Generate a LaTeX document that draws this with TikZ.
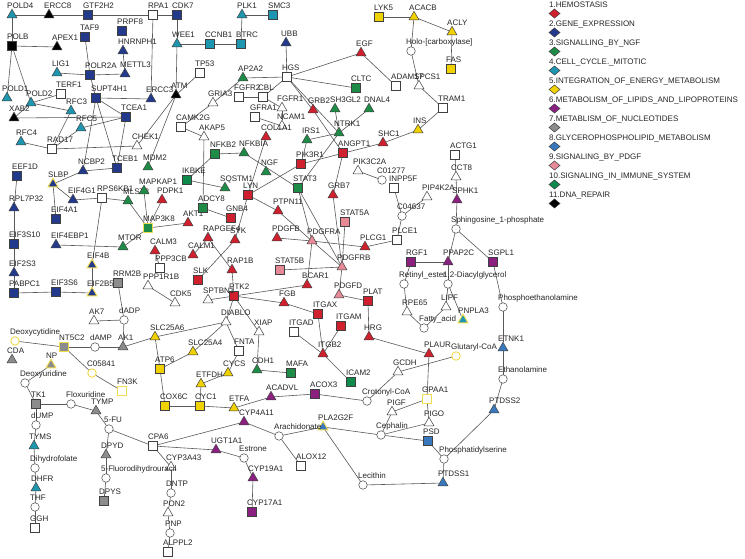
\documentclass[tikz,border=0pt]{standalone}
\usepackage{fontspec}
\setmainfont{Liberation Sans}
\usetikzlibrary{shapes.geometric}
\definecolor{c1}{HTML}{D0202E}
\definecolor{c2}{HTML}{233A8C}
\definecolor{c3}{HTML}{1E8C46}
\definecolor{c4}{HTML}{1E96B0}
\definecolor{c5}{HTML}{F0D200}
\definecolor{c6}{HTML}{8A2180}
\definecolor{c7}{HTML}{8C8C8C}
\definecolor{c8}{HTML}{3A78BE}
\definecolor{c9}{HTML}{E68A98}
\definecolor{c10}{HTML}{0E8A4C}
\definecolor{c11}{HTML}{000000}
\definecolor{ybd}{HTML}{F0DC50}
\pgfdeclarelayer{bg}
\pgfsetlayers{bg,main}
\tikzset{
 base/.style={draw=black!75, line width=0.5pt, inner sep=0pt, outer sep=0pt},
 sq/.style={base, rectangle, minimum size=9pt},
 tri/.style={base, regular polygon, regular polygon sides=3, minimum size=11.5pt},
 cir/.style={base, circle, minimum size=8.5pt},
 yb/.style={draw=ybd, line width=0.9pt},
 lbl/.style={font=\fontsize{8}{9}\selectfont, anchor=base west, inner sep=0pt, text=black!85},
 ed/.style={draw=black!65, line width=0.6pt},
 legd/.style={base, diamond, minimum width=11pt, minimum height=9pt},
}
\newcommand\ND[6]{\node[#2,fill=#3] (#1) at (#4,#5) {}; \node[lbl] at (#4-5,#5-6.5) {#6};}
\begin{document}
\begin{tikzpicture}[x=1pt,y=-1pt]
\useasboundingbox (0,0) rectangle (745,559);
% --- top left: DNA repair / gene expression
\ND{POLD4}{tri}{c4}{12}{15}{POLD4}
\ND{ERCC8}{tri}{c11}{49}{15}{ERCC8}
\ND{GTF2H2}{sq}{c2}{88}{15}{GTF2H2}
\ND{RPA1}{sq}{white}{153}{15}{RPA1}
\ND{CDK7}{sq}{c2}{177}{15}{CDK7}
\ND{TAF9}{sq}{c2}{85}{37}{TAF9}
\ND{PRPF8}{sq}{c2}{122}{31}{PRPF8}
\ND{POLB}{sq}{c11}{12}{46}{POLB}
\ND{APEX1}{tri}{c11}{57}{47}{APEX1}
\ND{HNRNPH1}{tri}{c2}{123}{51}{HNRNPH1}
\ND{WEE1}{tri}{c4}{177}{44}{WEE1}
\ND{LIG1}{tri}{c4}{57}{73}{LIG1}
\ND{POLR2A}{sq}{c2}{90}{75}{POLR2A}
\ND{METTL3}{tri}{c2}{125}{74}{METTL3}
\ND{POLD1}{tri}{c4}{7}{98}{POLD1}
\ND{TERF1}{sq}{white}{61}{94}{TERF1}
\ND{POLD2}{tri}{c4}{31}{103}{POLD2}
\ND{SUPT4H1}{sq}{c2}{96}{98}{SUPT4H1}
\ND{ERCC3}{tri}{c2}{151}{99}{ERCC3}
\ND{ATM}{tri}{c11}{176}{95}{ATM}
\ND{RFC3}{tri}{c4}{71}{111}{RFC3}
\ND{XAB2}{tri}{c11}{14}{118}{XAB2}
\ND{TCEA1}{sq}{c2}{126}{117}{TCEA1}
\ND{RFC5}{tri}{c4}{81}{128}{RFC5}
\ND{CAMK2G}{sq}{white}{181}{127}{CAMK2G}
\ND{RFC4}{tri}{c4}{21}{142}{RFC4}
\ND{RAD17}{sq}{white}{52}{149}{RAD17}
\ND{CHEK1}{tri}{white}{137}{146}{CHEK1}
\ND{EEF1D}{sq}{c2}{17}{176}{EEF1D}
\ND{NCBP2}{tri}{c2}{83}{171}{NCBP2}
\ND{TCEB1}{sq}{c2}{117}{168}{TCEB1}
\ND{MDM2}{tri}{c3}{148}{167}{MDM2}
\ND{IKBKE}{sq}{c10}{187}{180}{IKBKE}
\ND{SLBP}{tri,yb}{c2}{53}{184}{SLBP}
% --- top middle
\ND{PLK1}{tri}{c4}{242}{15}{PLK1}
\ND{SMC3}{sq}{c4}{273}{15}{SMC3}
\ND{CCNB1}{sq}{c4}{210}{44}{CCNB1}
\ND{BTRC}{sq}{c4}{241}{44}{BTRC}
\ND{UBB}{tri}{c2}{286}{43}{UBB}
\ND{EGF}{tri}{c1}{361}{53}{EGF}
\ND{TP53}{sq}{white}{200}{73}{TP53}
\ND{AP2A2}{tri}{c3}{243}{78}{AP2A2}
\ND{HGS}{sq}{white}{287}{77}{HGS}
\ND{CLTC}{sq}{c3}{356}{88}{CLTC}
\ND{FGFR2}{sq}{white}{239}{97}{FGFR2}
\ND{CBL}{sq}{white}{263}{97}{CBL}
\ND{GRIA3}{tri}{white}{213}{103}{GRIA3}
\ND{FGFR1}{tri}{white}{282}{108}{FGFR1}
\ND{GRB2}{tri}{c1}{313}{110}{GRB2}
\ND{SH3GL2}{tri}{c3}{335}{109}{SH3GL2}
\ND{DNAL4}{tri}{c3}{369}{109}{DNAL4}
\ND{GFRA1}{sq}{white}{255}{117}{GFRA1}
\ND{NCAM1}{tri}{white}{282}{126}{NCAM1}
\ND{AKAP5}{tri}{white}{204}{137}{AKAP5}
\ND{COL1A1}{tri}{c1}{266}{137}{COL1A1}
\ND{IRS1}{tri}{c3}{307}{140}{IRS1}
\ND{NTRK1}{tri}{c3}{339}{133}{NTRK1}
\ND{NFKB2}{sq}{c3}{215}{154}{NFKB2}
\ND{NFKBIA}{tri}{c3}{244}{153}{NFKBIA}
\ND{ANGPT1}{sq}{c1}{343}{153}{ANGPT1}
\ND{PIK3R1}{sq}{c1}{301}{164}{PIK3R1}
\ND{PIK3C2A}{tri}{white}{358}{171}{PIK3C2A}
\ND{NGF}{tri}{c3}{266}{172}{NGF}
\ND{SQSTM1}{tri}{c3}{225}{188}{SQSTM1}
\ND{LYN}{sq}{c1}{248}{195}{LYN}
\ND{STAT3}{sq}{c3}{298}{188}{STAT3}
\ND{GRB7}{tri}{c1}{333}{195}{GRB7}
% --- top right
\ND{LYK5}{sq}{c5}{379}{17}{LYK5}
\ND{ACACB}{tri}{c5}{414}{17}{ACACB}
\ND{ACLY}{tri}{c5}{452}{32}{ACLY}
\ND{Holo}{cir}{white}{411}{51}{Holo-[carboxylase]}
\ND{FAS}{sq}{c5}{451}{69}{FAS}
\ND{ADAM17}{sq}{white}{396}{86}{ADAM17}
\ND{SPCS1}{tri}{white}{419}{86}{SPCS1}
\ND{TRAM1}{sq}{white}{443}{108}{TRAM1}
\ND{INS}{tri}{c5}{418}{130}{INS}
\ND{SHC1}{tri}{c1}{383}{143}{SHC1}
\ND{ACTG1}{sq}{white}{455}{155}{ACTG1}
\ND{CCT8}{tri}{white}{456}{177}{CCT8}
\ND{C01277}{cir}{white}{382}{180}{C01277}
\ND{INPP5F}{sq}{white}{394}{188}{INPP5F}
\ND{PIP4K2A}{tri}{white}{427}{197}{PIP4K2A}
\ND{SPHK1}{tri}{c6}{457}{200}{SPHK1}
% --- left middle
\ND{EIF4G1}{tri}{c2}{73}{200}{EIF4G1}
\ND{RPS6KB1}{sq}{white}{102}{198}{RPS6KB1}
\ND{MLST8}{tri}{c3}{128}{201}{MLST8}
\ND{MAPKAP1}{tri}{c3}{144}{191}{MAPKAP1}
\ND{PDPK1}{tri}{c1}{162}{200}{PDPK1}
\ND{RPL7P32}{tri}{c2}{14}{208}{RPL7P32}
\ND{EIF4A1}{sq}{c2}{56}{219}{EIF4A1}
\ND{MAP3K8}{sq,yb}{c3}{148}{228}{MAP3K8}
\ND{AKT1}{tri}{c1}{188}{223}{AKT1}
\ND{EIF3S10}{sq}{c2}{14}{244}{EIF3S10}
\ND{EIF4EBP1}{tri}{c2}{56}{245}{EIF4EBP1}
\ND{MTOR}{tri}{c3}{123}{247}{MTOR}
\ND{CALM3}{tri}{c1}{155}{251}{CALM3}
\ND{EIF4B}{tri,yb}{c2}{92}{265}{EIF4B}
\ND{PPP3CB}{sq}{white}{160}{268}{PPP3CB}
\ND{EIF2S3}{tri}{c2}{14}{273}{EIF2S3}
\ND{RRM2B}{sq}{c7}{118}{283}{RRM2B}
\ND{PPP1R1B}{tri}{white}{148}{286}{PPP1R1B}
\ND{PABPC1}{sq}{c2}{14}{293}{PABPC1}
\ND{EIF3S6}{sq}{c2}{56}{292}{EIF3S6}
\ND{EIF2B5}{tri,yb}{c2}{92}{293}{EIF2B5}
\ND{CDK5}{tri}{white}{175}{303}{CDK5}
\ND{AK7}{tri}{white}{94}{321}{AK7}
\ND{dADP}{cir}{white}{124}{320}{dADP}
\ND{DCYT}{cir,yb}{white}{15}{341}{Deoxycytidine}
\ND{NT5C2}{sq,yb}{c7}{64}{347}{NT5C2}
\ND{dAMP}{cir}{white}{95}{347}{dAMP}
\ND{AK1}{tri}{c7}{123}{347}{AK1}
\ND{SLC25A6}{tri}{c5}{155}{337}{SLC25A6}
\ND{CDA}{tri}{c7}{12}{360}{CDA}
\ND{NP}{tri,yb}{c7}{51}{365}{NP}
\ND{ATP6}{sq}{c5}{160}{369}{ATP6}
\ND{C05841}{cir,yb}{white}{92}{373}{C05841}
% --- center
\ND{ADCY8}{sq}{c3}{203}{208}{ADCY8}
\ND{GNB4}{sq}{c1}{231}{218}{GNB4}
\ND{PTPN11}{tri}{c1}{278}{211}{PTPN11}
\ND{STAT5A}{sq}{c9}{345}{222}{STAT5A}
\ND{RAPGEF4}{tri}{c1}{208}{238}{RAPGEF4}
\ND{SYK}{tri}{c1}{235}{240}{SYK}
\ND{PDGFB}{tri}{c1}{277}{238}{PDGFB}
\ND{PDGFRA}{tri}{c9}{312}{241}{PDGFRA}
\ND{PLCG1}{tri}{c1}{365}{247}{PLCG1}
\ND{CALM1}{tri}{c1}{193}{255}{CALM1}
\ND{PDGFRB}{tri}{c9}{342}{267}{PDGFRB}
\ND{STAT5B}{sq}{c9}{280}{270}{STAT5B}
\ND{RAP1B}{tri}{c1}{232}{270}{RAP1B}
\ND{BCAR1}{tri}{c1}{307}{285}{BCAR1}
\ND{SLK}{sq}{c1}{198}{280}{SLK}
\ND{PTK2}{sq}{c1}{234}{296}{PTK2}
\ND{SPTBN1}{tri}{white}{208}{300}{SPTBN1}
\ND{PDGFD}{tri}{c9}{339}{295}{PDGFD}
\ND{PLAT}{sq}{c1}{368}{301}{PLAT}
\ND{FGB}{tri}{c1}{284}{303}{FGB}
\ND{ITGAX}{sq}{c1}{318}{314}{ITGAX}
\ND{DIABLO}{tri}{white}{226}{322}{DIABLO}
\ND{XIAP}{tri}{white}{259}{332}{XIAP}
\ND{ITGAD}{sq}{white}{294}{332}{ITGAD}
\ND{ITGAM}{sq}{c1}{341}{326}{ITGAM}
\ND{HRG}{tri}{c1}{369}{337}{HRG}
\ND{SLC25A4}{tri}{c5}{193}{352}{SLC25A4}
\ND{FNTA}{sq}{white}{239}{351}{FNTA}
\ND{ITGB2}{tri}{c1}{323}{354}{ITGB2}
\ND{CDH1}{tri}{c3}{257}{370}{CDH1}
\ND{MAFA}{sq}{c3}{291}{373}{MAFA}
\ND{CYCS}{tri}{c5}{228}{373}{CYCS}
\ND{ICAM2}{sq}{c10}{351}{382}{ICAM2}
% --- right middle
\ND{C04637}{cir}{white}{402}{216}{C04637}
\ND{SOP}{cir}{white}{456}{229}{Sphingosine\_1-phosphate}
\ND{PLCE1}{sq}{white}{397}{240}{PLCE1}
\ND{XGF1}{sq}{c6}{411}{262}{RGF1}
\ND{PPAP2C}{tri}{c6}{448}{262}{PPAP2C}
\ND{SGPL1}{sq}{c6}{493}{262}{SGPL1}
\ND{RETE}{cir}{white}{404}{284}{Retinyl\_ester}
\ND{DAG}{cir}{white}{448}{284}{1,2-Diacylglycerol}
\ND{LIPF}{tri}{white}{446}{307}{LIPF}
\ND{RPE65}{tri}{white}{407}{312}{RPE65}
\ND{PETN}{cir}{white}{503}{307}{Phosphoethanolamine}
\ND{FA}{cir}{white}{424}{328}{Fatty\_acid}
\ND{PNPLA3}{tri,yb}{c4}{463}{320}{PNPLA3}
\ND{ETNK1}{tri}{c8}{503}{348}{ETNK1}
\ND{PLAUR}{tri}{c1}{429}{354}{PLAUR}
\ND{GLUT}{cir,yb}{white}{456}{356}{Glutaryl-CoA}
\ND{GCDH}{tri}{white}{398}{372}{GCDH}
\ND{ETN}{cir}{white}{503}{379}{Ethanolamine}
% --- bottom
\ND{DURI}{cir}{white}{25}{383}{Deoxyuridine}
\ND{FN3K}{sq,yb}{white}{122}{391}{FN3K}
\ND{TK1}{sq}{c7}{36}{404}{TK1}
\ND{FLOX}{cir}{white}{71}{404}{Floxuridine}
\ND{TYMP}{tri}{c7}{96}{411}{TYMP}
\ND{dUMP}{cir}{white}{36}{425}{dUMP}
\ND{FU}{cir}{white}{109}{429}{5-FU}
\ND{CPA6}{sq}{white}{153}{446}{CPA6}
\ND{TYMS}{tri}{c4}{34}{446}{TYMS}
\ND{DPYD}{tri}{c7}{106}{455}{DPYD}
\ND{CYP3A43}{tri}{white}{171}{467}{CYP3A43}
\ND{DHF}{cir}{white}{35}{468}{Dihydrofolate}
\ND{FDHU}{cir}{white}{106}{478}{5-Fluorodihydrouracil}
\ND{DHFR}{tri}{c4}{36}{488}{DHFR}
\ND{DNTP}{cir}{white}{171}{493}{DNTP}
\ND{DPYS}{sq}{c7}{104}{501}{DPYS}
\ND{THF}{cir}{white}{35}{507}{THF}
\ND{PON2}{tri}{white}{168}{513}{PON2}
\ND{GGH}{sq}{white}{35}{528}{GGH}
\ND{PNP}{cir}{white}{170}{533}{PNP}
\ND{ALPPL2}{sq}{white}{168}{552}{ALPPL2}
\ND{COX6C}{sq}{c5}{165}{406}{COX6C}
\ND{ETFDH}{tri}{c5}{201}{384}{ETFDH}
\ND{ACADVL}{tri}{c6}{271}{397}{ACADVL}
\ND{ACOX3}{sq}{c6}{315}{394}{ACOX3}
\ND{CROT}{cir}{white}{367}{401}{Crotonyl-CoA}
\ND{CYC1}{sq}{c5}{200}{406}{CYC1}
\ND{ETFA}{tri}{c5}{234}{408}{ETFA}
\ND{CYP4A11}{tri}{c6}{244}{422}{CYP4A11}
\ND{PLA2G2F}{tri,yb}{c8}{323}{427}{PLA2G2F}
\ND{ARA}{cir}{white}{279}{436}{Arachidonate}
\ND{UGT1A1}{tri}{c6}{216}{450}{UGT1A1}
\ND{ESTR}{cir}{white}{244}{458}{Estrone}
\ND{ALOX12}{sq}{white}{301}{466}{ALOX12}
\ND{CYP19A1}{tri}{c6}{253}{478}{CYP19A1}
\ND{LEC}{cir}{white}{363}{485}{Lecithin}
\ND{CYP17A1}{sq}{c6}{252}{512}{CYP17A1}
\ND{GPAA1}{sq,yb}{white}{427}{399}{GPAA1}
\ND{PIGF}{tri}{white}{392}{412}{PIGF}
\ND{PTDSS2}{tri}{c8}{494}{410}{PTDSS2}
\ND{PIGO}{tri}{white}{429}{423}{PIGO}
\ND{CEPH}{cir}{white}{381}{435}{Cephalin}
\ND{PSD}{sq}{c8}{428}{441}{PSD}
\ND{PS}{cir}{white}{444}{459}{Phosphatidylserine}
\ND{PTDSS1}{tri}{c8}{443}{483}{PTDSS1}
% --- edges
\begin{pgfonlayer}{bg}
\fill[white] (0,0) rectangle (745,559);
\foreach \a/\b in {POLD4/ERCC8,ERCC8/GTF2H2,GTF2H2/RPA1,RPA1/CDK7,POLD4/POLB,POLB/APEX1,POLB/POLD1,POLB/POLD2,
 POLD2/TERF1,POLD2/RFC3,POLD2/XAB2,XAB2/TCEA1,RFC3/RAD17,RFC5/RAD17,RFC5/TCEA1,RFC4/RAD17,RAD17/CHEK1,
 TAF9/POLR2A,LIG1/POLR2A,POLR2A/METTL3,HNRNPH1/METTL3,POLR2A/SUPT4H1,SUPT4H1/ERCC3,SUPT4H1/TCEA1,SUPT4H1/TCEB1,
 SUPT4H1/NCBP2,TCEA1/TCEB1,NCBP2/TCEB1,NCBP2/SLBP,RPA1/ERCC3,CDK7/WEE1,WEE1/ATM,ATM/CHEK1,ATM/MDM2,TP53/ATM,
 WEE1/CCNB1,CCNB1/BTRC,BTRC/PLK1,PLK1/SMC3,UBB/HGS,AP2A2/HGS,HGS/EGF,HGS/CLTC,HGS/CBL,HGS/GRB2,HGS/NTRK1,
 GRIA3/AP2A2,GRIA3/CAMK2G,CAMK2G/AKAP5,AKAP5/ADCY8,FGFR2/CBL,CBL/FGFR1,GFRA1/NCAM1,NCAM1/FGFR1,COL1A1/LYN,
 IRS1/NTRK1,IRS1/PIK3R1,NTRK1/SH3GL2,NTRK1/DNAL4,NTRK1/STAT3,GRB2/ANGPT1,PIK3R1/SHC1,ANGPT1/GRB7,PIK3R1/LYN,
 NFKB2/NFKBIA,NFKB2/IKBKE,NFKBIA/STAT3,IKBKE/SQSTM1,EGF/ADAM17,LYK5/ACACB,ACACB/ACLY,ACACB/Holo,ACLY/FAS,Holo/SPCS1,
 SPCS1/TRAM1,TRAM1/INS,INS/SHC1,ACTG1/CCT8,CCT8/SPHK1,PIK3C2A/C01277,INPP5F/C04637,PIP4K2A/C04637,
 C04637/PLCE1,PLCE1/PLCG1,SPHK1/SOP,SOP/PPAP2C,SOP/SGPL1,XGF1/PPAP2C,XGF1/RETE,PPAP2C/DAG,SGPL1/PETN,
 PETN/ETNK1,ETNK1/ETN,RETE/RPE65,RPE65/FA,FA/LIPF,LIPF/DAG,DAG/PNPLA3,HRG/PLAUR,PLAUR/GPAA1,GLUT/GCDH,
 GCDH/CROT,CROT/ACOX3,ACOX3/ACADVL,ACADVL/ETFA,ETFA/CYC1,CYC1/COX6C,CYC1/ETFDH,ETFDH/CYCS,CYCS/FNTA,
 COX6C/ATP6,ATP6/SLC25A6,ATP6/SLC25A4,SLC25A6/AK1,SLC25A6/DIABLO,DIABLO/SLC25A4,DIABLO/FNTA,DIABLO/PTK2,
 PTK2/XIAP,XIAP/CDH1,CDH1/MAFA,PTK2/SPTBN1,PTK2/BCAR1,PTK2/RAP1B,PTK2/FGB,FGB/ITGAX,ITGAX/ITGB2,ITGAM/ITGB2,
 ITGAD/ITGB2,ITGB2/ICAM2,PDGFD/PLAT,PLAT/HRG,SLK/SYK,LYN/SYK,LYN/PTPN11,ADCY8/GNB4,STAT3/PDGFRA,STAT3/PDGFRB,
 GRB7/PDGFRB,STAT5A/PDGFRB,PDGFB/PDGFRA,STAT5B/PDGFRB,PDGFRA/PDGFRB,PDGFRA/BCAR1,PDGFRA/PLCG1,PDGFRB/PDGFD,
 PTPN11/PDGFRA,RAPGEF4/RAP1B,CALM1/RAPGEF4,
 GPAA1/PIGF,GPAA1/PIGO,PIGF/CEPH,PIGO/CEPH,CEPH/PSD,PSD/PS,PS/PTDSS2,PS/PTDSS1,PTDSS2/ETN,LEC/PTDSS1,
 PLA2G2F/LEC,PLA2G2F/CEPH,ARA/PLA2G2F,ARA/ALOX12,CYP4A11/ARA,CPA6/CYP4A11,CPA6/UGT1A1,UGT1A1/ESTR,
 ESTR/CYP19A1,CYP19A1/CYP17A1,CPA6/CYP3A43,CYP3A43/DNTP,DNTP/PON2,PON2/PNP,PNP/ALPPL2,FU/CPA6,FU/DPYD,
 DPYD/FDHU,FDHU/DPYS,FLOX/TYMP,TYMP/FU,TK1/FLOX,DURI/TK1,TK1/dUMP,dUMP/TYMS,TYMS/DHF,DHF/DHFR,DHFR/THF,
 THF/GGH,C05841/FN3K,NT5C2/C05841,DCYT/NT5C2,NT5C2/dAMP,dAMP/AK1,AK1/dADP,dADP/AK7,dADP/RRM2B,DURI/NP,
 EIF4G1/RPS6KB1,EIF4G1/SLBP,SLBP/EIF4A1,RPS6KB1/MLST8,RPS6KB1/EIF4B,MLST8/MAP3K8,MAPKAP1/MAP3K8,PDPK1/MAP3K8,
 MAP3K8/AKT1,MAP3K8/MTOR,MTOR/EIF4EBP1,EEF1D/RPL7P32,RPL7P32/EIF3S10,EIF3S10/EIF2S3,EIF2S3/PABPC1,
 PABPC1/EIF3S6,EIF3S6/EIF2B5,EIF4B/EIF2B5,PPP1R1B/CDK5,PPP3CB/CALM3}
 \draw[ed] (\a) -- (\b);
\end{pgfonlayer}
% --- legend
\foreach \i/\c/\t in {1/c1/1.HEMOSTASIS,2/c2/2.GENE\_EXPRESSION,3/c3/3.SIGNALLING\_BY\_NGF,
 4/c4/4.CELL\_CYCLE.\_MITOTIC,5/c5/5.INTEGRATION\_OF\_ENERGY\_METABOLISM,
 6/c6/6.METABOLISM\_OF\_LIPIDS\_AND\_LIPOPROTEINS,7/c7/7.METABLISM\_OF\_NUCLEOTIDES,
 8/c8/8.GLYCEROPHOSPHOLIPID\_METABOLISM,9/c9/9.SIGNALING\_BY\_PDGF,
 10/c10/10.SIGNALING\_IN\_IMMUNE\_SYSTEM,11/c11/11.DNA\_REPAIR}{
 \node[lbl] (lt\i) at (549,{7.5+19*(\i-1)}) {\t};
 \node[legd,fill=\c] (ld\i) at (554.5,{13.5+19*(\i-1)}) {};
}
\end{tikzpicture}
\end{document}
